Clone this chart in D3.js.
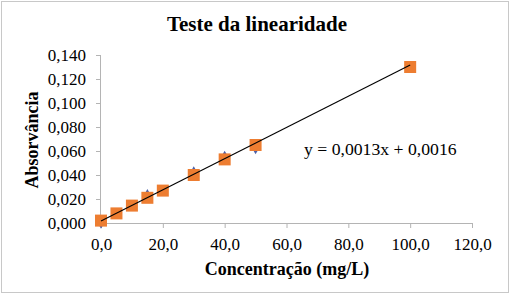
<!DOCTYPE html>
<html>
<head>
<meta charset="utf-8">
<script src="https://cdn.jsdelivr.net/npm/d3@7"></script>
<style>
  body { margin: 0; background: #fff; }
</style>
</head>
<body>
<div id="chart"></div>
<script>
// Concentration (mg/L) and absorbance
const concentrations = [0, 5, 10, 15, 20, 30, 40, 50, 100];
const absorbance = [0.002, 0.008, 0.0145, 0.021, 0.027, 0.040, 0.053, 0.065, 0.130];
// second (blue) series mostly hidden behind the squares
const absorbanceRaw = [-0.0005, 0.008, 0.0145, 0.024, 0.027, 0.043, 0.056, 0.0615, 0.130];
const xTicks = [0, 20, 40, 60, 80, 100, 120];
const yTicks = [0, 0.02, 0.04, 0.06, 0.08, 0.1, 0.12, 0.14];
const slope = 0.0013;
const intercept = 0.0016;

const width = 513, height = 295;
const margin = { top: 55, right: 41, bottom: 72, left: 101 };
const serif = "'Liberation Serif', 'Times New Roman', Times, serif";

const svg = d3.select("#chart").append("svg")
  .attr("width", width)
  .attr("height", height);

// outer frame
svg.append("rect")
  .attr("x", 1.5).attr("y", 1.5)
  .attr("width", 507).attr("height", 291)
  .attr("fill", "#fff")
  .attr("stroke", "#c8c8c8");

const x = d3.scaleLinear().domain([0, 120]).range([margin.left, width - margin.right]);
const y = d3.scaleLinear().domain([0, 0.14]).range([height - margin.bottom, margin.top]);

const fmt = (d, n) => d.toFixed(n).replace(".", ",");

// axes
const xAxis = svg.append("g")
  .attr("transform", `translate(0,${y(0)})`)
  .call(d3.axisBottom(x).tickValues(xTicks).tickSize(5).tickPadding(10).tickFormat((d) => fmt(d, 1)));
const yAxis = svg.append("g")
  .attr("transform", `translate(${x(0)},0)`)
  .call(d3.axisLeft(y).tickValues(yTicks).tickSize(5).tickPadding(10).tickFormat((d) => fmt(d, 3)));

[xAxis, yAxis].forEach((g) => {
  g.attr("font-family", null).attr("font-size", null);
  g.selectAll("path, line").attr("stroke", "#b4b4b4");
  g.select(".domain").attr("d", g === xAxis
    ? `M${x(0)},0.5H${x(120)}`
    : `M-0.5,${y(0.14)}V${y(0)}`);
  g.selectAll("text")
    .style("font-family", serif)
    .style("font-size", "17px")
    .attr("fill", "#000");
});
xAxis.selectAll(".tick line").attr("y1", 0);

// blue markers (underneath)
svg.append("g")
  .selectAll("path")
  .data(concentrations.map((c, i) => [c, absorbanceRaw[i]]))
  .enter()
  .append("path")
  .attr("d", d3.symbol(d3.symbolDiamond, 30))
  .attr("transform", (d) => `translate(${x(d[0])},${y(d[1])})`)
  .attr("fill", "#4a5fa8");

// orange squares
const sq = 12;
svg.append("g")
  .selectAll("rect")
  .data(concentrations.map((c, i) => [c, absorbance[i]]))
  .enter()
  .append("rect")
  .attr("x", (d) => x(d[0]) - sq / 2)
  .attr("y", (d) => y(d[1]) - sq / 2)
  .attr("width", sq)
  .attr("height", sq)
  .attr("fill", "#ed7d31");

// linear trendline
const xMin = d3.min(concentrations), xMax = d3.max(concentrations);
svg.append("line")
  .attr("x1", x(xMin)).attr("y1", y(slope * xMin + intercept))
  .attr("x2", x(xMax)).attr("y2", y(slope * xMax + intercept))
  .attr("stroke", "#000")
  .attr("stroke-width", 1.1);

const label = (txt, px, py, size, bold) => svg.append("text")
  .attr("x", px).attr("y", py)
  .style("font-family", serif)
  .style("font-size", size + "px")
  .style("font-weight", bold ? "bold" : "normal")
  .attr("fill", "#000")
  .text(txt);

// equation label
label("y = 0,0013x + 0,0016", 304, 155, 17.7, false);

// title
label("Teste da linearidade", 257, 31, 21, true).attr("text-anchor", "middle");

// axis titles
label("Concentração (mg/L)", 287, 275, 18, true).attr("text-anchor", "middle");
label("Absorvância", 0, 0, 18, true)
  .attr("text-anchor", "middle")
  .attr("transform", "translate(38,140) rotate(-90)");
</script>
</body>
</html>
